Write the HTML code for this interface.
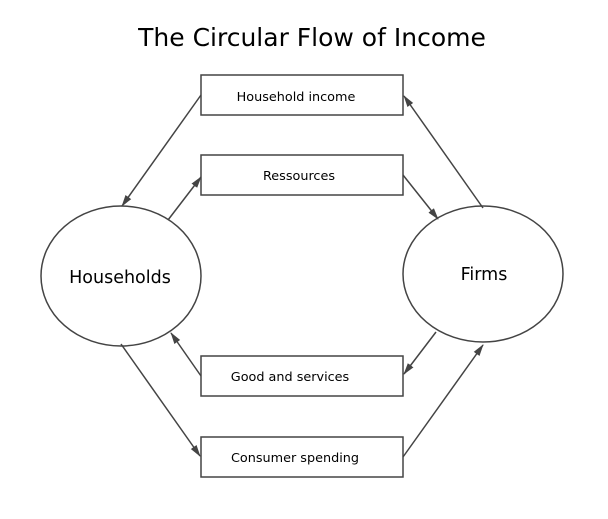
<!DOCTYPE html>
<html><head><style>body{margin:0;background:#fff}</style></head><body>
<svg width="608" height="514" xmlns="http://www.w3.org/2000/svg" font-family="DejaVu Sans, Liberation Sans, sans-serif">
<defs><marker id="a" markerWidth="12" markerHeight="8" refX="11" refY="4" orient="auto" markerUnits="userSpaceOnUse"><path d="M0,0.5 L12,4 L0,7.5 z" fill="#444"/></marker></defs>
<text x="312" y="46" text-anchor="middle" font-size="25" fill="#000">The Circular Flow of Income</text>
<g fill="#fff" stroke="#444" stroke-width="1.5">
<rect x="201" y="75" width="202" height="40"/>
<rect x="201" y="155" width="202" height="40"/>
<rect x="201" y="356" width="202" height="40"/>
<rect x="201" y="437" width="202" height="40"/>
<ellipse cx="121" cy="276" rx="80" ry="70"/>
<ellipse cx="483" cy="274" rx="80" ry="68"/>
</g>
<g font-size="12.8" text-anchor="middle" fill="#000">
<text x="296" y="101">Household income</text>
<text x="299" y="180">Ressources</text>
<text x="290" y="381">Good and services</text>
<text x="295" y="462">Consumer spending</text>
</g>
<text x="120" y="283" font-size="17.5" text-anchor="middle">Households</text>
<text x="484" y="280" font-size="17.5" text-anchor="middle">Firms</text>
<g stroke="#444" stroke-width="1.5" marker-end="url(#a)">
<line x1="201" y1="95" x2="122" y2="206"/>
<line x1="168" y1="220" x2="201" y2="177"/>
<line x1="403" y1="175" x2="438" y2="219"/>
<line x1="483" y1="208" x2="404" y2="96"/>
<line x1="436" y1="332" x2="404" y2="374"/>
<line x1="201" y1="376" x2="171" y2="333"/>
<line x1="121" y1="344" x2="200" y2="456"/>
<line x1="403" y1="457" x2="483" y2="345"/>
</g>
</svg>
</body></html>
